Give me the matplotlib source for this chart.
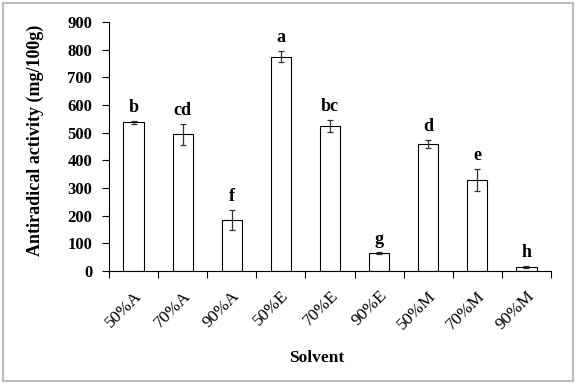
import matplotlib
matplotlib.use("Agg")
import matplotlib.pyplot as plt
from matplotlib.patches import Rectangle
import numpy as np

plt.rcParams['font.family'] = ['Liberation Serif', 'DejaVu Serif']

solvents = ["50%A", "70%A", "90%A", "50%E", "70%E", "90%E", "50%M", "70%M", "90%M"]
activity = [537, 494, 185, 775, 523, 64, 459, 330, 15]
errors = [5, 39, 36, 20, 22, 3, 15, 40, 3]
letters = ["b", "cd", "f", "a", "bc", "g", "d", "e", "h"]

fig = plt.figure(figsize=(5.82, 3.85), dpi=100)
ax = fig.add_axes([109/582, 1-271/385, (551-109)/582, (271-22)/385])

x = np.arange(len(solvents))
ax.bar(x, activity, width=0.41, color='white', edgecolor='black', linewidth=0.8, zorder=2)
ax.errorbar(x, activity, yerr=errors, fmt='none', ecolor='#333333', elinewidth=0.9,
            capsize=2.5, capthick=0.9, zorder=3)

# significance letters above the error bars
for xi, v, e, lab in zip(x, activity, errors, letters):
    ax.annotate(lab, (xi, v + e), xytext=(0, 3.5), textcoords='offset points',
                ha='center', va='bottom', fontsize=13, fontweight='bold')

ax.set_xlim(-0.5, len(solvents) - 0.5)
ax.set_ylim(0, 900)
ax.set_yticks(range(0, 901, 100))
ax.set_yticklabels([str(v) for v in range(0, 901, 100)], fontsize=12, fontweight='bold')
ax.set_xticks(x)
ax.set_xticklabels(solvents, rotation=45, ha='right', rotation_mode='anchor', fontsize=12.5)
ax.tick_params(axis='x', which='major', length=0, pad=12)
ax.set_xticks(np.arange(-0.5, len(solvents)), minor=True)
ax.tick_params(axis='x', which='minor', length=5, direction='out', width=0.8)
ax.tick_params(axis='y', length=5, direction='out', width=0.8, pad=7)

ax.spines['top'].set_visible(False)
ax.spines['right'].set_visible(False)
ax.spines['left'].set_linewidth(0.8)
ax.spines['bottom'].set_linewidth(0.8)

fig.text(35/582, 1-140/385, "Antiradical activity (mg/100g)", rotation=90,
         ha='center', va='center', fontsize=13, fontweight='bold')
fig.text(317/582, 1-358/385, "Solvent", ha='center', va='center',
         fontsize=12.5, fontweight='bold')

fig.patches.append(Rectangle((3/582, 4/385), 570/582, 378/385, transform=fig.transFigure,
                             fill=False, edgecolor='#bdbdbd', linewidth=1.5))

fig.savefig("out.png", dpi=100)
